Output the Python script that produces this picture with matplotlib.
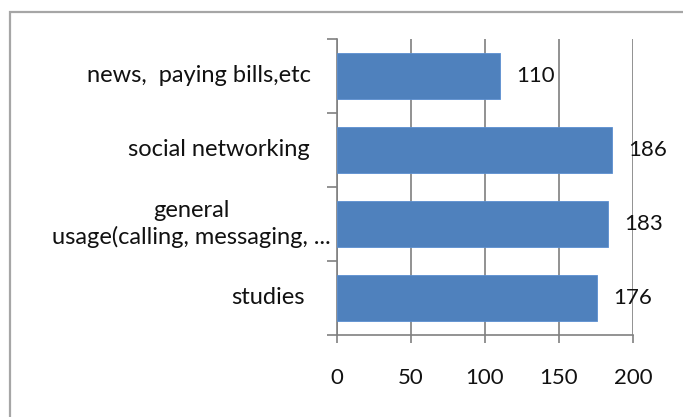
import matplotlib
matplotlib.use("Agg")
import matplotlib.pyplot as plt
from matplotlib.patches import Rectangle

categories = ["news,  paying bills,etc", "social networking",
              "general\nusage(calling, messaging, ...", "studies"]
values = [110, 186, 183, 176]
xticks = [0, 50, 100, 150, 200]

W, H = 683, 417
fig = plt.figure(figsize=(W / 100, H / 100), dpi=100)
plt.rcParams['font.family'] = ['Lato', 'DejaVu Sans']
FS = 16
FS_CAT = 17

# outer chart border
fig.patches.append(Rectangle((9.5 / W, -0.1), 1.2, 1.1 - 12 / H,
                             transform=fig.transFigure, fill=False,
                             edgecolor="#a6a6a6", linewidth=1.6))

x0, x1 = 337, 633
y0, y1 = 39, 335
ax = fig.add_axes([x0 / W, 1 - y1 / H, (x1 - x0) / W, (y1 - y0) / H])

pos = list(range(len(categories)))
ax.barh(pos, values, height=0.61, color="#4f81bd", edgecolor="#5b8fd0",
        linewidth=0.6, zorder=3)
ax.set_xlim(0, 200)
ax.set_ylim(3.5, -0.5)
ax.set_xticks(xticks)
ax.set_xticklabels([str(t) for t in xticks], fontsize=FS, color="#111111")
ax.tick_params(axis="x", length=6, width=1.2, color="#808080", pad=18)
ax.grid(axis="x", color="#7f7f7f", linewidth=1.2, zorder=0)

ax.set_yticks(pos)
ax.set_yticklabels([])
ax.tick_params(axis="y", length=0)
ax.set_yticks([p - 0.5 for p in pos] + [len(pos) - 0.5], minor=True)
ax.tick_params(axis="y", which="minor", length=7, width=1.2, color="#808080")

for s in ["top", "right"]:
    ax.spines[s].set_visible(False)
for s in ["left", "bottom"]:
    ax.spines[s].set_color("#808080")
    ax.spines[s].set_linewidth(1.2)

# category labels (right edge offsets in pixels from the axis)
right_gap = [26, 27, 6, 32]
for p, lab, g in zip(pos, categories, right_gap):
    ax.annotate(lab, xy=(0, p), xycoords=("axes fraction", "data"),
                xytext=(-g * 0.72, 0), textcoords="offset points",
                ha="right", va="center", multialignment="center",
                fontsize=FS_CAT, color="#111111", linespacing=1.3)

# value labels
for p, v in zip(pos, values):
    ax.annotate(str(v), xy=(v, p), xytext=(11.5, 0), textcoords="offset points",
                ha="left", va="center", fontsize=FS, color="#111111",
                annotation_clip=False)

fig.savefig("out.png", dpi=100)
